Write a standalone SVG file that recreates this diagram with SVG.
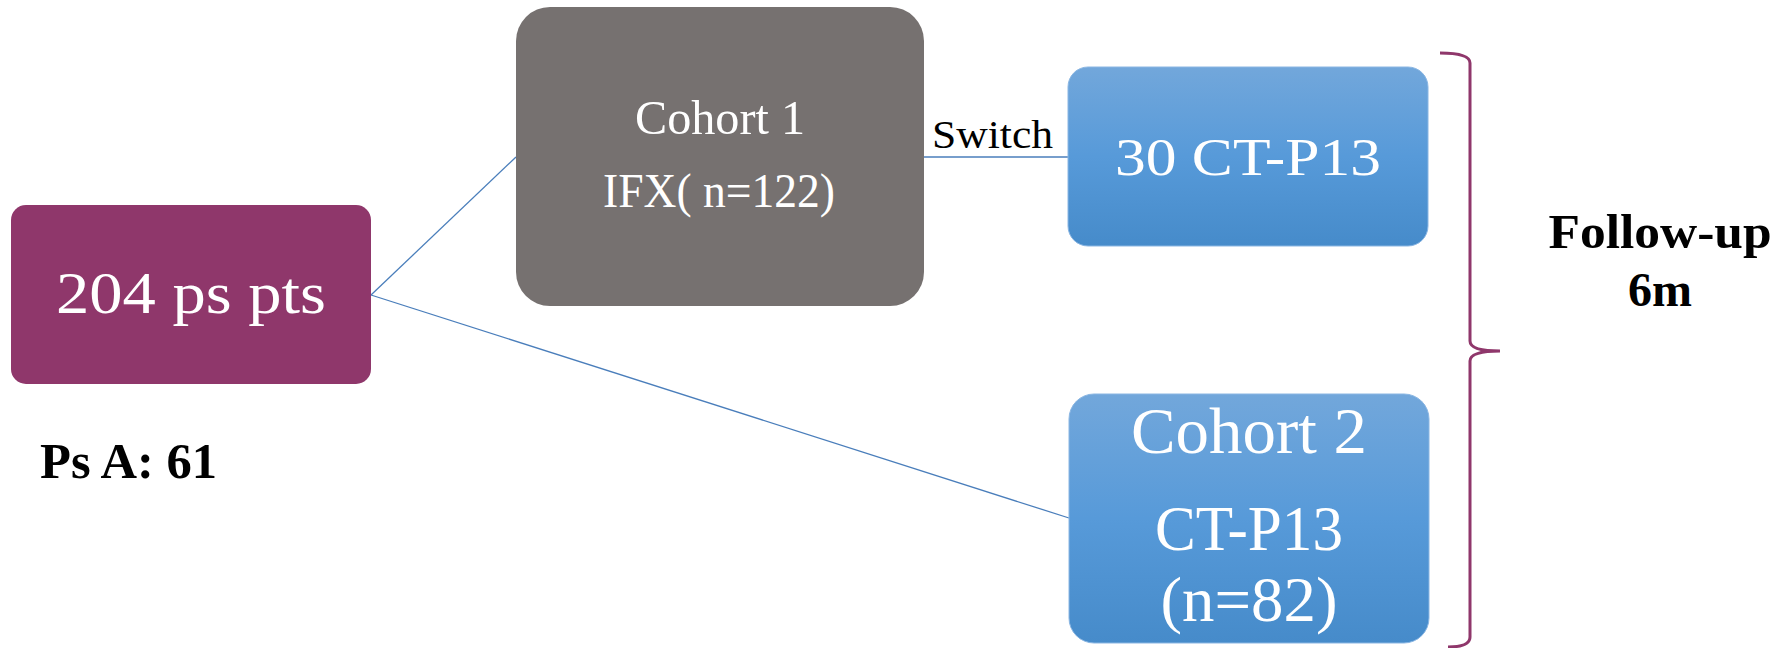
<svg xmlns="http://www.w3.org/2000/svg" width="1783" height="648" viewBox="0 0 1783 648">
<defs>
<linearGradient id="blue" x1="0" y1="0" x2="0" y2="1">
<stop offset="0" stop-color="#72a7db"/>
<stop offset="0.5" stop-color="#579ad9"/>
<stop offset="1" stop-color="#468bca"/>
</linearGradient>
<style>
.w{fill:#ffffff;font-family:"Liberation Serif",serif;text-anchor:middle}
.k{fill:#000000;font-family:"Liberation Serif",serif}
.b{font-weight:bold}
.con{stroke:#4a7ebb;stroke-width:1.3;fill:none}
.blue{fill:url(#blue);stroke:#8ab6e3;stroke-width:1}
</style>
</defs>
<rect width="1783" height="648" fill="#ffffff"/>
<g id="connectors">
<line class="con" x1="371" y1="295" x2="516" y2="157"/>
<line class="con" x1="371" y1="295" x2="1069" y2="518"/>
<line class="con" x1="924" y1="157" x2="1068" y2="157"/>
<text class="k" x="932" y="148" font-size="40" textLength="121" lengthAdjust="spacingAndGlyphs">Switch</text>
</g>
<g id="n204">
<rect x="11" y="205" width="360" height="179" rx="15" fill="#8f376b"/>
<text class="w" x="191" y="313" font-size="60" textLength="270" lengthAdjust="spacingAndGlyphs">204 ps pts</text>
</g>
<g id="cohort1">
<rect x="516" y="7" width="408" height="299" rx="34" fill="#767170"/>
<text class="w" x="720" y="134" font-size="48" textLength="170" lengthAdjust="spacingAndGlyphs">Cohort 1</text>
<text class="w" x="719" y="207" font-size="48" textLength="232" lengthAdjust="spacingAndGlyphs">IFX( n=122)</text>
</g>
<g id="ct30">
<rect class="blue" x="1068" y="67" width="360" height="179" rx="20"/>
<text class="w" x="1248" y="175" font-size="52" textLength="266" lengthAdjust="spacingAndGlyphs">30 CT-P13</text>
</g>
<g id="cohort2">
<rect class="blue" x="1069" y="394" width="360" height="249" rx="25"/>
<text class="w" x="1249" y="453" font-size="66" textLength="236" lengthAdjust="spacingAndGlyphs">Cohort 2</text>
<text class="w" x="1249" y="550" font-size="64" textLength="188" lengthAdjust="spacingAndGlyphs">CT-P13</text>
<text class="w" x="1249" y="621" font-size="64" textLength="177" lengthAdjust="spacingAndGlyphs">(n=82)</text>
</g>
<g id="brace">
<path d="M1440,53 Q1470,53 1470,63 L1470,341 Q1470,351 1500,351 Q1470,351 1470,361 L1470,637 Q1470,647 1448,647" fill="none" stroke="#8f376b" stroke-width="3"/>
</g>
<g id="followup">
<text class="k b" x="1660" y="248" font-size="48" text-anchor="middle" textLength="223" lengthAdjust="spacingAndGlyphs">Follow-up</text>
<text class="k b" x="1660" y="306" font-size="48" text-anchor="middle">6m</text>
</g>
<g id="psa">
<text class="k b" x="40" y="478" font-size="50" textLength="177" lengthAdjust="spacingAndGlyphs">Ps A: 61</text>
</g>
</svg>
